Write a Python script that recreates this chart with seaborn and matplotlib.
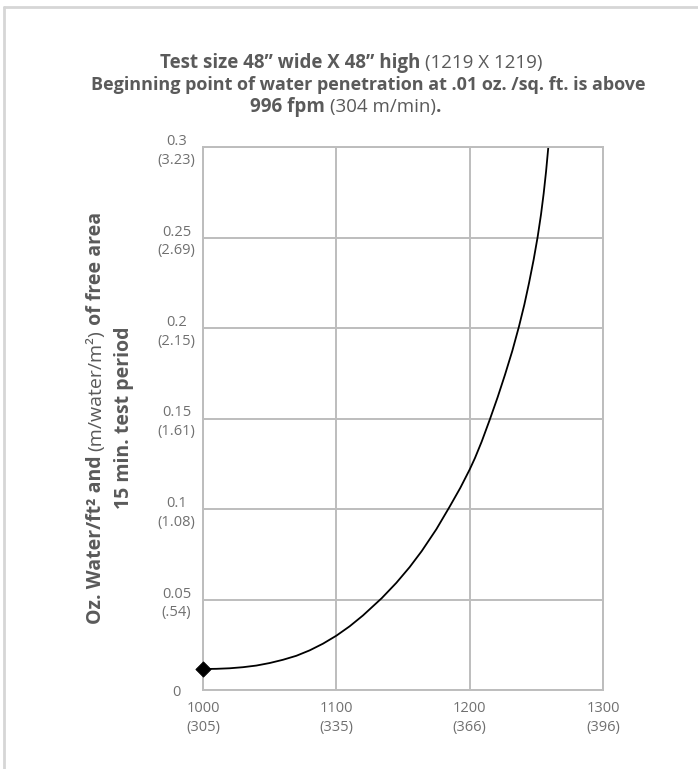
import matplotlib
matplotlib.use("Agg")
import matplotlib.pyplot as plt
import seaborn as sns
import pandas as pd
from matplotlib.lines import Line2D

# values
fpm = [1000, 1010, 1020, 1030, 1040, 1050, 1060, 1070, 1080, 1090, 1100,
       1110, 1120, 1134, 1145, 1155, 1164, 1175, 1185, 1193, 1200, 1204,
       1209, 1215, 1221, 1226.5, 1232, 1237, 1241, 1244.5, 1248, 1251,
       1253.5, 1255.5, 1257.3, 1259]
water = [0.0116, 0.0117, 0.0120, 0.0126, 0.0135, 0.0149, 0.0167, 0.0189,
         0.0219, 0.0256, 0.0300, 0.0352, 0.0412, 0.0507, 0.0592, 0.0679,
         0.0767, 0.0888, 0.1013, 0.1117, 0.1218, 0.1282, 0.1372, 0.1492,
         0.1618, 0.1742, 0.1874, 0.2009, 0.2129, 0.2248, 0.2378, 0.2504,
         0.2627, 0.2743, 0.2865, 0.3000]
start_fpm = [1000]
start_water = [0.0116]

x_ticks = [1000, 1100, 1200, 1300]
x_labels = ["1000\n(305)", "1100\n(335)", "1200\n(366)", "1300\n(396)"]
y_ticks = [0, 0.05, 0.1, 0.15, 0.2, 0.25, 0.3]
y_labels = ["0", "0.05\n(.54)", "0.1\n(1.08)", "0.15\n(1.61)", "0.2\n(2.15)",
            "0.25\n(2.69)", "0.3\n(3.23)"]

sns.set_style("white")
plt.rcParams["font.family"] = ["Open Sans", "DejaVu Sans"]

W, H = 698, 769
fig = plt.figure(figsize=(W / 100, H / 100), dpi=100)
ax = fig.add_axes([203 / W, 1 - 690 / H, 400 / W, 543 / H])

df = pd.DataFrame({"fpm": fpm, "water": water})
sns.lineplot(data=df, x="fpm", y="water", ax=ax, color="black", linewidth=1.3,
             solid_joinstyle="round")
sns.scatterplot(x=start_fpm, y=start_water, ax=ax, marker="D", s=60,
                color="black", edgecolor="black", zorder=5, clip_on=False)

grid_c = "#bdbdbd"
ax.set_xlim(1000, 1300)
ax.set_ylim(0, 0.3)
ax.set_xticks(x_ticks)
ax.set_xticklabels(x_labels)
ax.set_yticks(y_ticks)
ax.set_yticklabels(y_labels)
ax.grid(True, color=grid_c, linewidth=1.4)
for s in ax.spines.values():
    s.set_color(grid_c)
    s.set_linewidth(1.4)
ax.set_xlabel("")
ax.set_ylabel("")
ax.tick_params(axis="both", length=0, labelsize=10.5, labelcolor="#707070")
ax.tick_params(axis="x", pad=8)
ax.tick_params(axis="y", pad=19)
for t in ax.get_yticklabels():
    t.set_ha("center")
    t.set_multialignment("center")
    t.set_linespacing(1.35)
for t in ax.get_xticklabels():
    t.set_multialignment("center")
    t.set_linespacing(1.35)

renderer = fig.canvas.get_renderer()
txt_c = "#5a5a5a"


def mixed_line(segments, cx, cy, size, rotation=0):
    # place runs of bold / regular text one after another, centred on (cx, cy)
    items = []
    total = 0
    for s, w in segments:
        t = fig.text(0, 0, s, fontsize=size, fontweight=w, color=txt_c,
                     rotation=rotation, rotation_mode="anchor",
                     ha="left", va="center", transform=None)
        bb = t.get_window_extent(renderer)
        ln = bb.height if rotation == 90 else bb.width
        items.append((t, ln))
        total += ln
    pos = -total / 2
    for t, ln in items:
        if rotation == 90:
            t.set_position((cx, H - cy + pos))
        else:
            t.set_position((cx + pos, H - cy))
        pos += ln


mixed_line([("Test size 48\u201d wide X 48\u201d high ", "bold"),
            ("(1219 X 1219)", "normal")], 351, 63, 13.5)
mixed_line([("Beginning point of water penetration at .01 oz. /sq. ft. is above", "bold")],
           368, 85, 13)
mixed_line([("996 fpm ", "bold"), ("(304 m/min)", "normal"), (".", "bold")],
           346, 107, 13.5)

mixed_line([("Oz. Water/ft\u00b2 and ", "bold"), ("(m/water/m\u00b2)", "normal"),
            (" of free area", "bold")], 96, 418, 14, rotation=90)
mixed_line([("15 min. test period", "bold")], 124, 418, 14, rotation=90)

# light frame along the top and left edges
fig.add_artist(Line2D([4 / W, 4 / W], [0, 1 - 7 / H], transform=fig.transFigure,
                      color="#d6d6d6", linewidth=2))
fig.add_artist(Line2D([4 / W, 1], [1 - 7 / H, 1 - 7 / H], transform=fig.transFigure,
                      color="#d6d6d6", linewidth=2))

fig.savefig("out.png", dpi=100)
